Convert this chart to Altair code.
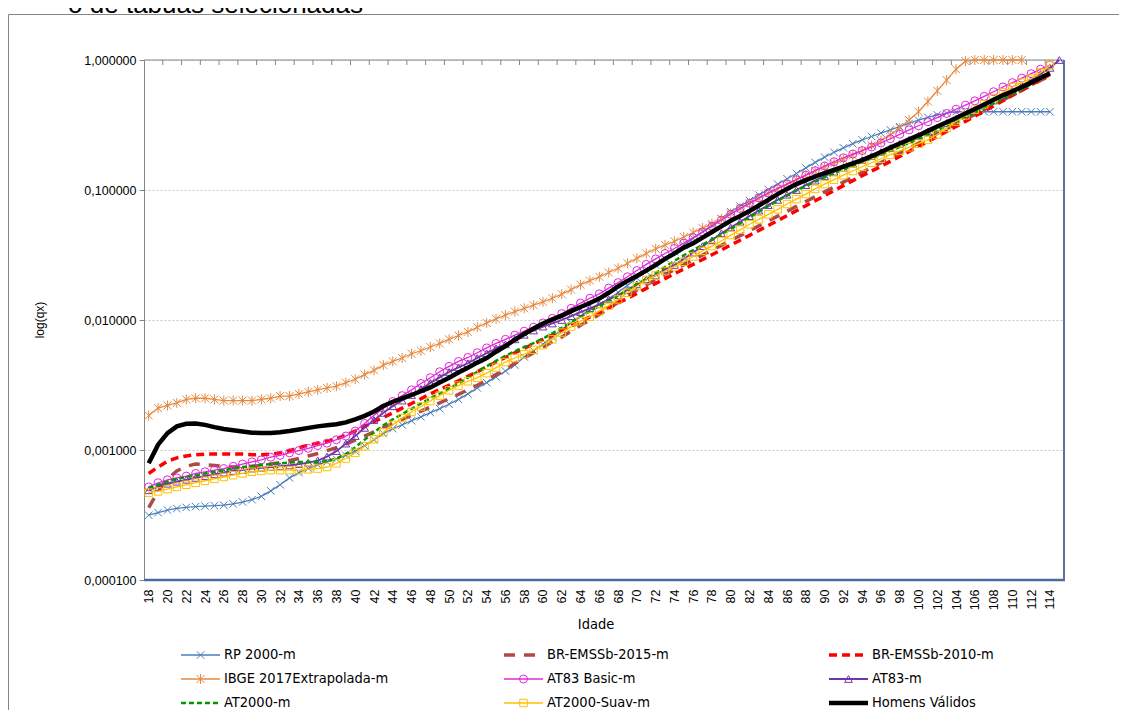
import altair as alt
import pandas as pd

# ---------------- data (qx by age, starting at age 18) ----------------
START_AGE = 18

series_names = ["RP 2000-m", "BR-EMSSb-2015-m", "BR-EMSSb-2010-m",
                "IBGE 2017Extrapolada-m", "AT83 Basic-m", "AT83-m",
                "AT2000-m", "AT2000-Suav-m", "Homens Válidos"]

rp2000 = [0.000315, 0.000330, 0.000345, 0.000355, 0.000362, 0.000367, 0.000370, 0.000373, 0.000376, 0.000385,
          0.000398, 0.000415, 0.000440, 0.000485, 0.000540, 0.000610, 0.000670, 0.000720, 0.000770, 0.000810,
          0.000850, 0.000910, 0.000980, 0.001080, 0.001200, 0.001340, 0.001460, 0.001560, 0.001680, 0.001800,
          0.001940, 0.002080, 0.002250, 0.002450, 0.002700, 0.003000, 0.003300, 0.003650, 0.004050, 0.004500,
          0.005200, 0.005800, 0.006500, 0.007400, 0.008400, 0.009500, 0.010700, 0.011900, 0.013100, 0.014500,
          0.016300, 0.018500, 0.021000, 0.023600, 0.026500, 0.029800, 0.033500, 0.037700, 0.042400, 0.047700,
          0.053600, 0.060300, 0.068000, 0.075000, 0.083000, 0.091500, 0.101000, 0.111000, 0.122000, 0.134000,
          0.148000, 0.163000, 0.179000, 0.195000, 0.211000, 0.227000, 0.243000, 0.258000, 0.274000, 0.290000,
          0.307000, 0.325000, 0.345000, 0.362000, 0.378000, 0.390000, 0.400000, 0.400000, 0.400000, 0.400000,
          0.400000, 0.400000, 0.400000, 0.400000, 0.400000, 0.400000, 0.400000]

br_emssb_2015 = [0.00036, 0.00048, 0.00060, 0.00069, 0.00075, 0.00078, 0.00077, 0.00076, 0.00075, 0.00074,
                 0.00074, 0.00075, 0.00076, 0.00078, 0.00080, 0.00083, 0.00086, 0.00090, 0.00094, 0.00099,
                 0.00104, 0.00111, 0.00119, 0.00128, 0.00138, 0.00149, 0.00160, 0.00172, 0.00185, 0.00199,
                 0.00214, 0.00230, 0.00248, 0.00268, 0.00290, 0.00315, 0.00345, 0.00380, 0.00420, 0.00462,
                 0.00510, 0.00560, 0.00620, 0.00680, 0.00740, 0.00820, 0.00910, 0.01000, 0.01100, 0.01220,
                 0.01370, 0.01530, 0.01700, 0.01860, 0.02040, 0.02230, 0.02440, 0.02660, 0.02900, 0.03160,
                 0.03440, 0.03750, 0.04090, 0.04460, 0.04860, 0.05300, 0.05780, 0.06300, 0.06860, 0.07480,
                 0.08150, 0.08880, 0.09680, 0.10550, 0.11500, 0.12530, 0.13660, 0.14890, 0.16230, 0.17690,
                 0.19280, 0.21000, 0.22900, 0.25000, 0.27200, 0.29600, 0.32200, 0.35000, 0.38100, 0.41500,
                 0.45200, 0.49200, 0.53600, 0.58400, 0.63700, 0.69500, 0.76000]

br_emssb_2010 = [0.00066, 0.00074, 0.00082, 0.00087, 0.00090, 0.00092, 0.00093, 0.00093, 0.00093, 0.00093,
                 0.00093, 0.00092, 0.00092, 0.00093, 0.00095, 0.00099, 0.00104, 0.00109, 0.00113, 0.00117,
                 0.00122, 0.00130, 0.00140, 0.00152, 0.00165, 0.00178, 0.00193, 0.00210, 0.00228, 0.00248,
                 0.00270, 0.00292, 0.00315, 0.00340, 0.00368, 0.00400, 0.00435, 0.00475, 0.00515, 0.00560,
                 0.00605, 0.00655, 0.00710, 0.00765, 0.00830, 0.00900, 0.00975, 0.01055, 0.01140, 0.01240,
                 0.01350, 0.01470, 0.01600, 0.01750, 0.01910, 0.02080, 0.02270, 0.02470, 0.02680, 0.02920,
                 0.03180, 0.03460, 0.03770, 0.04110, 0.04480, 0.04890, 0.05330, 0.05820, 0.06350, 0.06930,
                 0.07570, 0.08270, 0.09040, 0.09890, 0.10800, 0.11800, 0.12900, 0.14000, 0.15200, 0.16600,
                 0.18100, 0.19800, 0.21600, 0.23600, 0.25800, 0.28200, 0.30800, 0.33700, 0.36900, 0.40400,
                 0.44300, 0.48600, 0.53300, 0.58500, 0.64200, 0.70500, 0.77500]

ibge_2017 = [0.00184, 0.00210, 0.00220, 0.00230, 0.00245, 0.00250, 0.00250, 0.00245, 0.00240, 0.00240,
             0.00240, 0.00240, 0.00245, 0.00250, 0.00260, 0.00260, 0.00270, 0.00280, 0.00290, 0.00300,
             0.00310, 0.00330, 0.00350, 0.00380, 0.00410, 0.00450, 0.00480, 0.00510, 0.00550, 0.00580,
             0.00620, 0.00660, 0.00710, 0.00760, 0.00810, 0.00880, 0.00950, 0.01020, 0.01090, 0.01160,
             0.01230, 0.01300, 0.01380, 0.01470, 0.01580, 0.01710, 0.01870, 0.02010, 0.02150, 0.02320,
             0.02500, 0.02730, 0.02980, 0.03250, 0.03530, 0.03780, 0.04030, 0.04350, 0.04700, 0.05100,
             0.05500, 0.06000, 0.06600, 0.07200, 0.07900, 0.08600, 0.09400, 0.10200, 0.11100, 0.12000,
             0.13000, 0.14000, 0.15000, 0.16000, 0.17200, 0.18500, 0.20000, 0.22000, 0.24000, 0.26500,
             0.30000, 0.34500, 0.40000, 0.48000, 0.58000, 0.70000, 0.85000, 0.98000, 1.00000, 1.00000,
             1.00000, 1.00000, 1.00000, 1.00000]

at83_basic = [0.00052, 0.00056, 0.00059, 0.00061, 0.00063, 0.00066, 0.00068, 0.00070, 0.00072, 0.00075,
              0.00078, 0.00081, 0.00084, 0.00088, 0.00091, 0.00095, 0.00099, 0.00103, 0.00108, 0.00113,
              0.00120, 0.00128, 0.00140, 0.00160, 0.00185, 0.00210, 0.00236, 0.00262, 0.00290, 0.00325,
              0.00360, 0.00400, 0.00440, 0.00480, 0.00515, 0.00560, 0.00610, 0.00660, 0.00710, 0.00765,
              0.00820, 0.00880, 0.00950, 0.01030, 0.01120, 0.01230, 0.01350, 0.01470, 0.01590, 0.01760,
              0.01940, 0.02150, 0.02400, 0.02680, 0.02950, 0.03250, 0.03550, 0.03900, 0.04300, 0.04750,
              0.05250, 0.05850, 0.06500, 0.07200, 0.07900, 0.08700, 0.09500, 0.10300, 0.11100, 0.12000,
              0.13000, 0.14100, 0.15300, 0.16500, 0.17700, 0.18900, 0.20100, 0.21400, 0.23000, 0.24800,
              0.26800, 0.29000, 0.31200, 0.33500, 0.36000, 0.38800, 0.41800, 0.45000, 0.48500, 0.52500,
              0.57000, 0.62000, 0.67000, 0.72500, 0.78500, 0.85000, 0.91500]

at83 = [0.00049, 0.00052, 0.00055, 0.00057, 0.00059, 0.00061, 0.00063, 0.00065, 0.00067, 0.00069,
        0.00070, 0.00072, 0.00073, 0.00074, 0.00075, 0.00076, 0.00078, 0.00080, 0.00083, 0.00089,
        0.00098, 0.00112, 0.00128, 0.00148, 0.00170, 0.00193, 0.00217, 0.00240, 0.00265, 0.00295,
        0.00328, 0.00362, 0.00398, 0.00432, 0.00465, 0.00510, 0.00555, 0.00605, 0.00650, 0.00710,
        0.00770, 0.00830, 0.00890, 0.00940, 0.01000, 0.01070, 0.01150, 0.01230, 0.01320, 0.01440,
        0.01550, 0.01700, 0.01880, 0.02050, 0.02200, 0.02450, 0.02650, 0.02950, 0.03300, 0.03700,
        0.04100, 0.04650, 0.05150, 0.05700, 0.06300, 0.06950, 0.07650, 0.08400, 0.09200, 0.10000,
        0.10900, 0.11800, 0.12800, 0.13800, 0.14800, 0.15900, 0.17000, 0.18200, 0.19600, 0.21000,
        0.22600, 0.24300, 0.26100, 0.28100, 0.30300, 0.32700, 0.35300, 0.38100, 0.41200, 0.44800,
        0.48800, 0.53200, 0.58000, 0.63500, 0.70000, 0.78000, 0.87000, 1.00000]

at2000 = [0.00051, 0.00054, 0.00057, 0.00060, 0.00062, 0.00064, 0.00066, 0.00068, 0.00070, 0.00072,
          0.00074, 0.00075, 0.00077, 0.00078, 0.00079, 0.00080, 0.00081, 0.00081, 0.00081, 0.00082,
          0.00086, 0.00093, 0.00105, 0.00120, 0.00137, 0.00155, 0.00172, 0.00189, 0.00207, 0.00228,
          0.00250, 0.00272, 0.00298, 0.00325, 0.00360, 0.00400, 0.00440, 0.00485, 0.00530, 0.00575,
          0.00620, 0.00665, 0.00720, 0.00790, 0.00870, 0.00960, 0.01060, 0.01170, 0.01280, 0.01400,
          0.01540, 0.01700, 0.01880, 0.02080, 0.02300, 0.02560, 0.02850, 0.03150, 0.03450, 0.03800,
          0.04150, 0.04550, 0.05000, 0.05550, 0.06150, 0.06800, 0.07500, 0.08250, 0.09050, 0.09900,
          0.10700, 0.11600, 0.12500, 0.13400, 0.14400, 0.15400, 0.16400, 0.17500, 0.18700, 0.20000,
          0.21500, 0.23000, 0.24700, 0.26700, 0.28800, 0.31100, 0.33600, 0.36300, 0.39300, 0.42600,
          0.46300, 0.50300, 0.54700, 0.59500, 0.65000, 0.71500, 0.79000]

at2000_suav = [0.00047, 0.00048, 0.00050, 0.00052, 0.00054, 0.00056, 0.00058, 0.00060, 0.00062, 0.00064,
               0.00066, 0.00068, 0.00069, 0.00070, 0.00070, 0.00070, 0.00070, 0.00071, 0.00072, 0.00074,
               0.00079, 0.00086, 0.00095, 0.00107, 0.00121, 0.00137, 0.00156, 0.00176, 0.00196, 0.00216,
               0.00238, 0.00262, 0.00288, 0.00313, 0.00338, 0.00360, 0.00390, 0.00430, 0.00475, 0.00510,
               0.00545, 0.00590, 0.00640, 0.00710, 0.00800, 0.00890, 0.00980, 0.01060, 0.01170, 0.01290,
               0.01440, 0.01620, 0.01820, 0.02030, 0.02200, 0.02380, 0.02580, 0.02800, 0.03080, 0.03400,
               0.03700, 0.04050, 0.04500, 0.04950, 0.05450, 0.05950, 0.06500, 0.07100, 0.07800, 0.08500,
               0.09300, 0.10200, 0.11100, 0.12000, 0.13000, 0.14000, 0.15100, 0.16200, 0.17400, 0.18700,
               0.20000, 0.21300, 0.22700, 0.24300, 0.26700, 0.30000, 0.33600, 0.37500, 0.41500, 0.45600,
               0.51000, 0.56500, 0.62000, 0.67000, 0.72000, 0.80000, 0.91500]

homens_validos = [0.00079, 0.00110, 0.00135, 0.00152, 0.00159, 0.00160, 0.00156, 0.00150, 0.00145, 0.00142,
                  0.00139, 0.00136, 0.00135, 0.00135, 0.00137, 0.00140, 0.00144, 0.00148, 0.00152, 0.00155,
                  0.00158, 0.00163, 0.00172, 0.00183, 0.00198, 0.00218, 0.00235, 0.00250, 0.00265, 0.00283,
                  0.00303, 0.00330, 0.00360, 0.00395, 0.00430, 0.00470, 0.00510, 0.00570, 0.00630, 0.00705,
                  0.00780, 0.00860, 0.00940, 0.01010, 0.01080, 0.01170, 0.01260, 0.01350, 0.01460, 0.01620,
                  0.01810, 0.02000, 0.02180, 0.02400, 0.02650, 0.02950, 0.03250, 0.03600, 0.03900, 0.04300,
                  0.04750, 0.05250, 0.05800, 0.06300, 0.06900, 0.07600, 0.08400, 0.09300, 0.10200, 0.11100,
                  0.11900, 0.12700, 0.13500, 0.14300, 0.15100, 0.16000, 0.17000, 0.18200, 0.19600, 0.21200,
                  0.22800, 0.24500, 0.26300, 0.28500, 0.30800, 0.33200, 0.35800, 0.38800, 0.42000, 0.45500,
                  0.49500, 0.53500, 0.57500, 0.62000, 0.67000, 0.73000, 0.79000]

all_values = [rp2000, br_emssb_2015, br_emssb_2010, ibge_2017, at83_basic, at83,
              at2000, at2000_suav, homens_validos]

x_label_ages = list(range(18, 115, 2))
top_tick_positions = [a - 0.5 for a in range(20, 115, 2)]
y_tick_values = [0.0001, 0.001, 0.01, 0.1, 1.0]

title_text = "o de tábuas selecionadas"
x_title = "Idade"
y_title = "log(qx)"

# ---------------- build table ----------------
rows = []
for name, vals in zip(series_names, all_values):
    for i, v in enumerate(vals):
        rows.append({"serie": name, "idade": START_AGE + i, "qx": v})
df = pd.DataFrame(rows)

# ---------------- styles ----------------
FONT = "Liberation Sans"
NARROW = "Liberation Sans Narrow, Arial Narrow, DejaVu Sans Condensed, sans-serif"
W, H = 920, 520
PAD_L, PAD_T = 136, 52
SVG_W, SVG_H = 1111, 702

XSHAPE = "M-1,-1L1,1M1,-1L-1,1"
ASTER = "M-1,-1L1,1M1,-1L-1,1M0,-1.25L0,1.25"

styles = {
    "RP 2000-m": dict(color="#4A7EBB", width=1.3, dash=None, shape=XSHAPE, size=56),
    "BR-EMSSb-2015-m": dict(color="#B04A46", width=3.5, dash=[11, 9], shape=None, size=0),
    "BR-EMSSb-2010-m": dict(color="#FF0000", width=3.5, dash=[8, 5], shape=None, size=0),
    "IBGE 2017Extrapolada-m": dict(color="#E8893F", width=1.3, dash=None, shape=ASTER, size=64),
    "AT83 Basic-m": dict(color="#E326D9", width=1.3, dash=None, shape="circle", size=64),
    "AT83-m": dict(color="#7434A6", width=1.8, dash=None, shape="triangle-up", size=60),
    "AT2000-m": dict(color="#009A00", width=2.5, dash=[5, 3], shape=None, size=0),
    "AT2000-Suav-m": dict(color="#FFC000", width=1.3, dash=None, shape="square", size=56),
    "Homens Válidos": dict(color="#000000", width=4.5, dash=None, shape=None, size=0),
}

xscale = alt.Scale(domain=[17.5, 115.5], nice=False, zero=False)
yscale = alt.Scale(type="log", domain=[0.0001, 1], nice=False)

xaxis = alt.Axis(values=x_label_ages, labelAngle=270, labelPadding=9, domain=False,
                 ticks=False, grid=False, labelFont=FONT, labelFontSize=12.5,
                 labelColor="#000000", title=None, labelOverlap=False, labelFlush=False)
yaxis = alt.Axis(values=y_tick_values,
                 labelExpr="replace(format(datum.value, '.6f'), '.', ',')",
                 grid=True, gridDash=[2, 2], gridColor="#C8C8C8", gridWidth=1,
                 domainColor="#868686", domainWidth=1, tickColor="#868686", tickSize=5,
                 labelFont=FONT, labelFontSize=12.5, labelColor="#000000", labelPadding=3,
                 title=None, labelOverlap=False, labelFlush=False)

X = alt.X("idade:Q", scale=xscale, axis=xaxis)
Y = alt.Y("qx:Q", scale=yscale, axis=yaxis)

one = alt.Data(values=[{"k": 1}])

layers = []

# plot-area borders
layers.append(alt.Chart(one).mark_rule(color="#868686", strokeWidth=1).encode(
    x=alt.value(0), x2=alt.value(W), y=alt.value(0)))
layers.append(alt.Chart(one).mark_rule(color="#4D6A9E", strokeWidth=2.5).encode(
    x=alt.value(0), x2=alt.value(W + 1), y=alt.value(H)))
layers.append(alt.Chart(one).mark_rule(color="#5A72A4", strokeWidth=2).encode(
    x=alt.value(W), y=alt.value(0), y2=alt.value(H)))

# small tick marks hanging from the top border
tick_df = pd.DataFrame({"idade": top_tick_positions})
layers.append(alt.Chart(tick_df).mark_rule(color="#868686", strokeWidth=1).encode(
    x=X, y=alt.value(0), y2=alt.value(5)))

# series
for name in series_names:
    st = styles[name]
    sub = df[df["serie"] == name]
    base = alt.Chart(sub)
    line_kw = dict(color=st["color"], strokeWidth=st["width"], clip=False)
    if st["dash"]:
        line_kw["strokeDash"] = st["dash"]
    layers.append(base.mark_line(**line_kw).encode(x=X, y=Y))
    if st["shape"]:
        layers.append(base.mark_point(shape=st["shape"], size=st["size"], filled=False,
                                      color=st["color"], strokeWidth=1, opacity=1).encode(x=X, y=Y))

# custom legend (3 columns x 3 rows)
LEG_X = [37, 360, 685]
LEG_Y = [595, 619, 643]
LINE_LEN = 39
for i, name in enumerate(series_names):
    st = styles[name]
    cx = LEG_X[i % 3]
    cy = LEG_Y[i // 3]
    lk = dict(color=st["color"], strokeWidth=st["width"])
    if st["dash"]:
        lk["strokeDash"] = st["dash"]
    layers.append(alt.Chart(one).mark_rule(**lk).encode(
        x=alt.value(cx), x2=alt.value(cx + LINE_LEN), y=alt.value(cy)))
    if st["shape"]:
        layers.append(alt.Chart(one).mark_point(shape=st["shape"], size=st["size"], filled=False,
                                                color=st["color"], strokeWidth=1, opacity=1).encode(
            x=alt.value(cx + LINE_LEN / 2), y=alt.value(cy)))
    layers.append(alt.Chart(one).mark_text(text=name, font=NARROW, fontSize=14.5, align="left",
                                           baseline="middle", color="#000000").encode(
        x=alt.value(cx + LINE_LEN + 4), y=alt.value(cy)))

# axis titles
layers.append(alt.Chart(one).mark_text(text=x_title, font=NARROW, fontSize=14.5, align="center",
                                       baseline="middle", color="#000000").encode(
    x=alt.value(452), y=alt.value(565)))
layers.append(alt.Chart(one).mark_text(text=y_title, font=FONT, fontSize=12, align="center",
                                       baseline="middle", angle=270, color="#000000").encode(
    x=alt.value(-104), y=alt.value(260)))

# chart title (cut by the top edge, as in the original)
layers.append(alt.Chart(one).mark_text(text=title_text, font=FONT, fontSize=26, align="right",
                                       baseline="alphabetic", color="#000000").encode(
    x=alt.value(219), y=alt.value(-47)))

# outer chart frame
layers.append(alt.Chart(one).mark_rule(color="#868686", strokeWidth=1).encode(
    x=alt.value(-PAD_L + 0.5), x2=alt.value(SVG_W - PAD_L), y=alt.value(-PAD_T + 6.5)))
layers.append(alt.Chart(one).mark_rule(color="#868686", strokeWidth=1).encode(
    x=alt.value(-PAD_L + 0.5), y=alt.value(-PAD_T + 6.5), y2=alt.value(SVG_H - PAD_T)))

chart = alt.layer(*layers).properties(
    width=W, height=H,
    autosize=alt.AutoSizeParams(type="none"),
    padding={"left": PAD_L, "top": PAD_T, "right": SVG_W - PAD_L - W, "bottom": SVG_H - PAD_T - H},
    background="white",
).configure_view(stroke=None)

chart.save("out.html", embed_options={"renderer": "svg", "actions": False})
